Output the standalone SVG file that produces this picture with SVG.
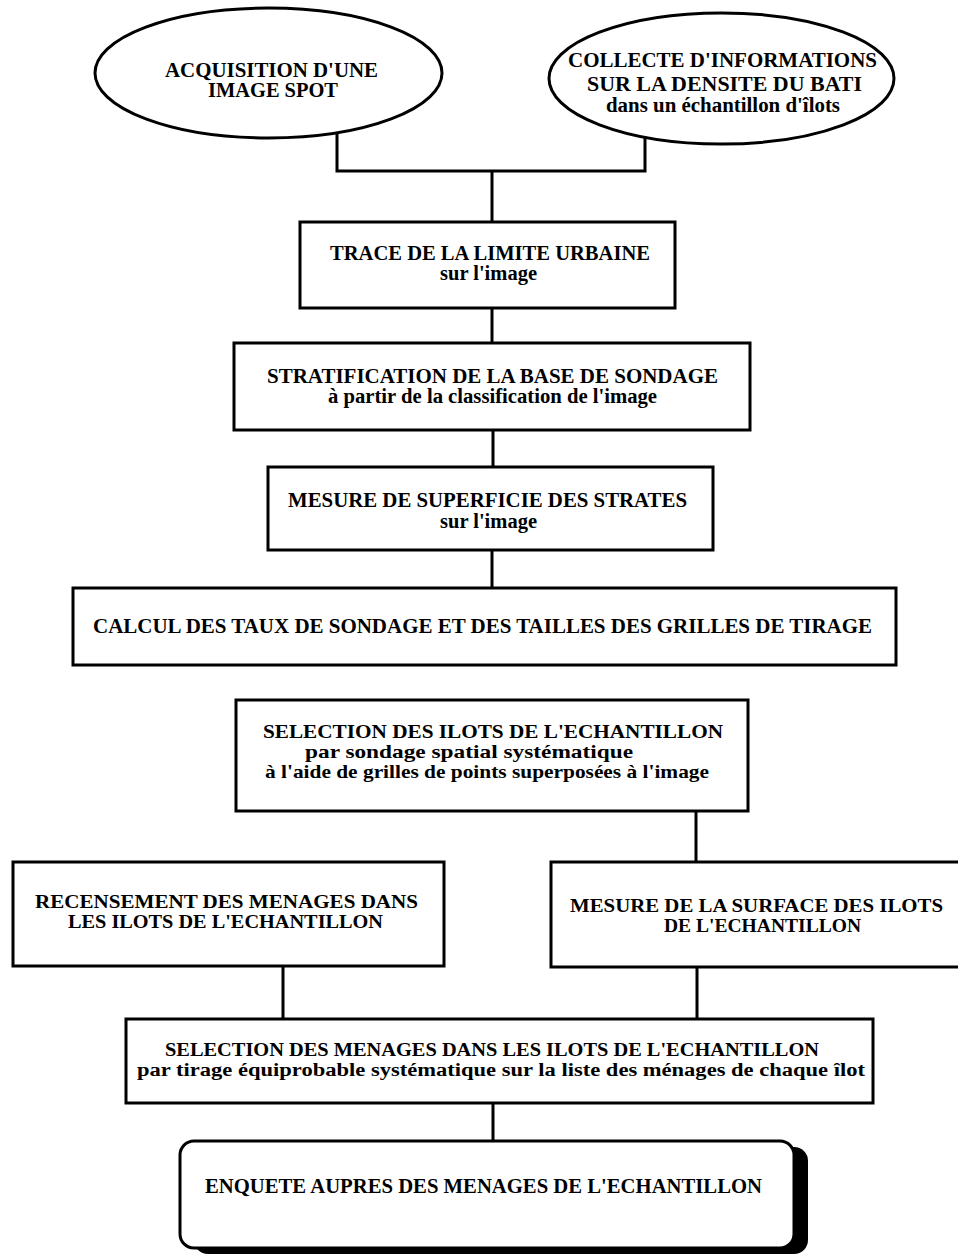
<svg xmlns="http://www.w3.org/2000/svg" width="958" height="1256" viewBox="0 0 958 1256">
<style>
.bg{fill:#fff}
.box{fill:#fff;stroke:#000;stroke-width:3}
.conn{fill:none;stroke:#000;stroke-width:3}
.sh{fill:#000}
.t{font-family:"Liberation Serif","Times New Roman",serif;font-weight:bold;font-size:20px;fill:#000}
.s{font-size:19px}
.xs{font-size:18px}
</style>
<rect class="bg" x="0" y="0" width="958" height="1256"/>
<g id="connectors">
<path class="conn" d="M337,132 V171 H645 V136"/>
<path class="conn" d="M492,171 V222"/>
<path class="conn" d="M492,308 V343"/>
<path class="conn" d="M493,430 V467"/>
<path class="conn" d="M492,550 V588"/>
<path class="conn" d="M696,811 V862"/>
<path class="conn" d="M283,966 V1019"/>
<path class="conn" d="M697,967 V1019"/>
<path class="conn" d="M493,1103 V1141"/>
</g>
<g id="acquisition">
<ellipse class="box" cx="268.5" cy="73" rx="173.5" ry="65"/>
<text class="t" x="165" y="77" textLength="213" lengthAdjust="spacingAndGlyphs">ACQUISITION D'UNE</text>
<text class="t" x="208" y="97" textLength="130" lengthAdjust="spacingAndGlyphs">IMAGE SPOT</text>
</g>
<g id="collecte">
<ellipse class="box" cx="721.5" cy="78.5" rx="172.5" ry="65.5"/>
<text class="t" x="568" y="67" textLength="309" lengthAdjust="spacingAndGlyphs">COLLECTE D'INFORMATIONS</text>
<text class="t" x="587" y="91" textLength="275" lengthAdjust="spacingAndGlyphs">SUR LA DENSITE DU BATI</text>
<text class="t" x="606" y="112" textLength="234" lengthAdjust="spacingAndGlyphs">dans un échantillon d'îlots</text>
</g>
<g id="trace">
<rect class="box" x="300" y="222" width="375" height="86"/>
<text class="t" x="330" y="260" textLength="320" lengthAdjust="spacingAndGlyphs">TRACE DE LA LIMITE URBAINE</text>
<text class="t" x="440" y="280" textLength="97" lengthAdjust="spacingAndGlyphs">sur l'image</text>
</g>
<g id="stratification">
<rect class="box" x="234" y="343" width="516" height="87"/>
<text class="t" x="267" y="383" textLength="451" lengthAdjust="spacingAndGlyphs">STRATIFICATION DE LA BASE DE SONDAGE</text>
<text class="t" x="328" y="403" textLength="329" lengthAdjust="spacingAndGlyphs">à partir de la classification de l'image</text>
</g>
<g id="superficie">
<rect class="box" x="268" y="467" width="445" height="83"/>
<text class="t" x="288" y="507" textLength="399" lengthAdjust="spacingAndGlyphs">MESURE DE SUPERFICIE DES STRATES</text>
<text class="t" x="440" y="528" textLength="97" lengthAdjust="spacingAndGlyphs">sur l'image</text>
</g>
<g id="calcul">
<rect class="box" x="73" y="588" width="823" height="77"/>
<text class="t" x="93" y="633" textLength="779" lengthAdjust="spacingAndGlyphs">CALCUL DES TAUX DE SONDAGE ET DES TAILLES DES GRILLES DE TIRAGE</text>
</g>
<g id="selection-ilots">
<rect class="box" x="236" y="700" width="512" height="111"/>
<text class="t s" x="263" y="738" textLength="460" lengthAdjust="spacingAndGlyphs">SELECTION DES ILOTS DE L'ECHANTILLON</text>
<text class="t s" x="305" y="758" textLength="328" lengthAdjust="spacingAndGlyphs">par sondage spatial systématique</text>
<text class="t s" x="265" y="778" textLength="444" lengthAdjust="spacingAndGlyphs">à l'aide de grilles de points superposées à l'image</text>
</g>
<g id="recensement">
<rect class="box" x="13" y="862" width="431" height="104"/>
<text class="t s" x="35" y="908" textLength="383" lengthAdjust="spacingAndGlyphs">RECENSEMENT DES MENAGES DANS</text>
<text class="t s" x="68" y="928" textLength="315" lengthAdjust="spacingAndGlyphs">LES ILOTS DE L'ECHANTILLON</text>
</g>
<g id="surface-ilots">
<rect class="box" x="551" y="862" width="420" height="105"/>
<text class="t s" x="570" y="912" textLength="373" lengthAdjust="spacingAndGlyphs">MESURE DE LA SURFACE DES ILOTS</text>
<text class="t s" x="664" y="932" textLength="197" lengthAdjust="spacingAndGlyphs">DE L'ECHANTILLON</text>
</g>
<g id="selection-menages">
<rect class="box" x="126" y="1019" width="747" height="84"/>
<text class="t s" x="165" y="1056" textLength="654" lengthAdjust="spacingAndGlyphs">SELECTION DES MENAGES DANS LES ILOTS DE L'ECHANTILLON</text>
<text class="t xs" x="137" y="1076" textLength="728" lengthAdjust="spacingAndGlyphs">par tirage équiprobable systématique sur la liste des ménages de chaque îlot</text>
</g>
<g id="enquete">
<rect class="sh" x="194" y="1147" width="614" height="107" rx="14"/>
<rect class="box" x="180" y="1141" width="614" height="107" rx="14"/>
<text class="t" x="205" y="1193" textLength="557" lengthAdjust="spacingAndGlyphs">ENQUETE AUPRES DES MENAGES DE L'ECHANTILLON</text>
</g>
</svg>
